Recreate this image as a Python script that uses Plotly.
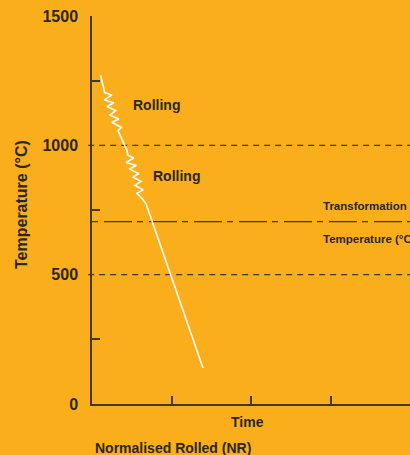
import plotly.graph_objects as go

# Cooling path (time in arbitrary units, temperature °C)
path_time = [0.107, 0.151, 0.160, 0.250, 0.155, 0.275, 0.190, 0.300, 0.222, 0.338, 0.252,
             0.368, 0.327, 0.440, 0.450, 0.525, 0.430, 0.557, 0.470, 0.588, 0.513,
             0.617, 0.541, 0.642, 0.567, 0.629, 0.679, 1.396]
path_temp = [1271, 1218, 1204, 1194, 1176, 1164, 1150, 1134, 1117, 1102, 1089,
             1069, 1057, 980, 962, 951, 934, 922, 909, 890, 877,
             861, 845, 828, 815, 794, 775, 139]

ref_lines = [1000, 500]
transformation_temp = 705
y_ticks = [0, 500, 1000, 1500]
y_minor = [250, 750, 1250]
x_ticks = [1, 2, 3]

labels = [("Rolling", 0.811, 1155), ("Rolling", 1.063, 881)]

BG = "#FAAE1B"
INK = "#2A2622"
AXIS = "#3E382F"
FONT = "Liberation Sans, Arial, sans-serif"

fig = go.Figure()
fig.add_trace(go.Scatter(x=path_time, y=path_temp, mode="lines",
                         line=dict(color="white", width=1.6), hoverinfo="skip",
                         showlegend=False))

shapes = []
for v in ref_lines:
    shapes.append(dict(type="line", xref="paper", yref="y", x0=-0.012, x1=1, y0=v, y1=v,
                       line=dict(color=AXIS, width=1.3, dash="6px,5px"), layer="below"))
shapes.append(dict(type="line", xref="paper", yref="y", x0=0, x1=1,
                   y0=transformation_temp, y1=transformation_temp,
                   line=dict(color=AXIS, width=1.3, dash="6px,6px,28px,5px"), layer="below"))

annotations = []
for t, x, y in labels:
    annotations.append(dict(text=t, x=x, y=y, xref="x", yref="y", showarrow=False,
                            xanchor="center", yanchor="middle",
                            font=dict(family=FONT, size=14, color=INK, weight="bold")))
annotations += [
    dict(text="Transformation", x=2.88, y=767, xref="x", yref="y", xanchor="left",
         yanchor="middle", showarrow=False,
         font=dict(family=FONT, size=11.5, color=INK, weight="bold")),
    dict(text="Temperature (°C)", x=2.88, y=636, xref="x", yref="y", xanchor="left",
         yanchor="middle", showarrow=False,
         font=dict(family=FONT, size=11.5, color=INK, weight="bold")),
    dict(text="Temperature (°C)", x=-0.22, y=0.513, xref="paper", yref="paper",
         xanchor="center", yanchor="middle", textangle=-90, showarrow=False,
         font=dict(family=FONT, size=16, color=INK, weight="bold")),
    dict(text="Time", x=0.49, y=-0.046, xref="paper", yref="paper", showarrow=False,
         xanchor="center", yanchor="middle",
         font=dict(family=FONT, size=14, color=INK, weight="bold")),
    dict(text="Normalised Rolled (NR)", x=0.003, y=-0.113, xref="paper", yref="paper",
         xanchor="left", yanchor="middle", showarrow=False,
         font=dict(family=FONT, size=14, color=INK, weight="bold")),
]

fig.update_layout(
    width=410, height=455,
    margin=dict(l=92, r=0, t=16, b=51),
    paper_bgcolor=BG, plot_bgcolor=BG,
    shapes=shapes, annotations=annotations,
    xaxis=dict(range=[0, 4], showgrid=False, zeroline=False, showline=True,
               linecolor=AXIS, linewidth=1.5, tickvals=x_ticks, ticks="inside",
               ticklen=8, tickwidth=1.5, tickcolor=AXIS, showticklabels=False,
               fixedrange=True),
    yaxis=dict(range=[0, 1500], showgrid=False, zeroline=False, showline=True,
               linecolor=AXIS, linewidth=1.5, tickvals=y_ticks, ticks="",
               ticklabelstandoff=9,
               tickfont=dict(family=FONT, size=16, color=INK, weight="bold"),
               minor=dict(tickvals=y_minor, ticks="inside", ticklen=8,
                          tickwidth=1.5, tickcolor=AXIS, showgrid=False),
               fixedrange=True),
)

fig.write_html("out.html", config={"displayModeBar": False},
               post_script="document.body.style.margin='0';document.body.style.background='%s';" % BG)
